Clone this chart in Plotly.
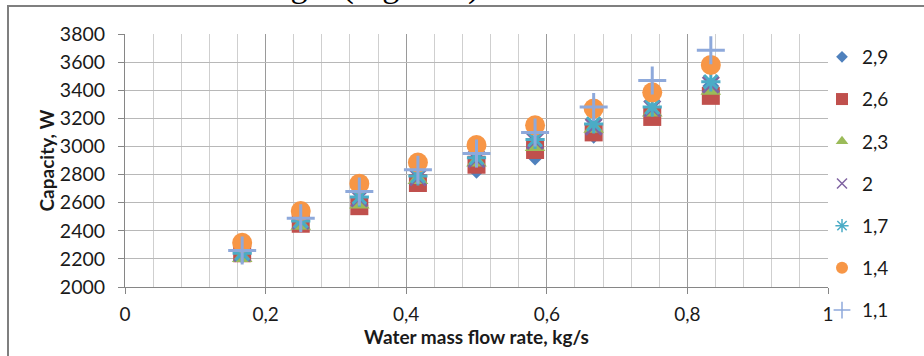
import plotly.graph_objects as go

# ---- data ----
flow_rate = [10/60, 15/60, 20/60, 25/60, 30/60, 35/60, 40/60, 45/60, 50/60]
series_names = ["2,9", "2,6", "2,3", "2", "1,7", "1,4", "1,1"]
cap_29 = [2230, 2460, 2620, 2770, 2830, 2925, 3080, 3240, 3430]
cap_26 = [2240, 2450, 2575, 2740, 2870, 2975, 3100, 3210, 3360]
cap_23 = [2210, 2440, 2590, 2765, 2890, 3000, 3130, 3245, 3400]
cap_20 = [2240, 2470, 2630, 2780, 2910, 3040, 3140, 3270, 3440]
cap_17 = [2240, 2470, 2640, 2790, 2920, 3050, 3160, 3280, 3460]
cap_14 = [2315, 2540, 2735, 2885, 3010, 3150, 3270, 3385, 3580]
cap_11 = [2260, 2490, 2680, 2835, 2950, 3100, 3280, 3470, 3685]
series_values = [cap_29, cap_26, cap_23, cap_20, cap_17, cap_14, cap_11]

x_tick_vals = [0, 0.2, 0.4, 0.6, 0.8, 1.0]
x_tick_text = ["0", "0,2", "0,4", "0,6", "0,8", "1"]
y_tick_vals = [2000, 2200, 2400, 2600, 2800, 3000, 3200, 3400, 3600, 3800]

# ---- style ----
colors = ["#4F81BD", "#C0504D", "#9BBB59", "#8064A2", "#4BACC6", "#F79646", "#8EA9DB"]
symbols = ["diamond", "square", "triangle-up", "x-thin-open", "asterisk-open",
           "circle", "cross-thin-open"]
plot_sizes = [13, 18, 18, 16, 16, 20, 20]
legend_sizes = [9, 12, 11, 10, 11, 12, 12]
FONT = "Lato"
TXT = "#1a1a1a"

fig = go.Figure()
for name, vals, c, s, ps in zip(series_names, series_values, colors, symbols, plot_sizes):
    open_sym = s.endswith("open")
    fig.add_trace(go.Scatter(
        x=flow_rate, y=vals, mode="markers", name=name, showlegend=False,
        marker=dict(symbol=s, size=ps, color=c,
                    line=dict(color=c, width=3 if open_sym else 0)),
    ))
for i, (name, c, s, ls) in enumerate(zip(series_names, colors, symbols, legend_sizes)):
    open_sym = s.endswith("open")
    fig.add_trace(go.Scatter(
        x=[None], y=[None], mode="markers", name=name, legendgroup=f"g{i}",
        marker=dict(symbol=s, size=ls, color=c,
                    line=dict(color=c, width=1.5 if open_sym else 0)),
    ))

W, H = 924, 356
L, R, T, B = 125, 96, 34, 69
pw, ph = W - L - R, H - T - B

def px_x(px):
    return (px - L) / pw

def px_y(py):
    return (H - B - py) / ph

fig.update_layout(
    width=W, height=H,
    margin=dict(l=L, r=R, t=T, b=B),
    paper_bgcolor="white", plot_bgcolor="white",
    font=dict(family=FONT, size=19, color=TXT),
    showlegend=True,
    legend=dict(x=px_x(822), y=px_y(38), xanchor="left", yanchor="top",
                font=dict(family=FONT, size=19, color=TXT),
                tracegroupgap=14.5, itemwidth=30, maxheight=340,
                bgcolor="rgba(0,0,0,0)"),
    xaxis=dict(
        range=[0, 1], tickmode="array", tickvals=x_tick_vals, ticktext=x_tick_text,
        showgrid=True, gridcolor="#9A9A9A", gridwidth=1,
        minor=dict(dtick=0.04, showgrid=True, gridcolor="#CFCFCF", gridwidth=1),
        ticks="outside", ticklen=6, tickcolor="#868686",
        showline=True, linecolor="#868686", linewidth=1,
        zeroline=False, ticklabelstandoff=4,
        title=dict(text="<b>Water mass flow rate, kg/s</b>", standoff=6,
                   font=dict(family=FONT, size=19, color=TXT)),
        tickfont=dict(family=FONT, size=19, color=TXT),
    ),
    yaxis=dict(
        range=[2000, 3800], tickmode="array", tickvals=y_tick_vals,
        showgrid=True, gridcolor="#B8B8B8", gridwidth=1,
        ticks="outside", ticklen=6, tickcolor="#868686",
        showline=True, linecolor="#868686", linewidth=1,
        zeroline=False, ticklabelstandoff=9,
        tickfont=dict(family=FONT, size=19.5, color=TXT),
    ),
)

# y-axis title
fig.add_annotation(text="<b>Capacity, W</b>", xref="paper", yref="paper",
                   x=px_x(46), y=0.5, xanchor="center", yanchor="middle",
                   textangle=-90, showarrow=False,
                   font=dict(family=FONT, size=19, color=TXT))

# chart-area border (top and left visible)
fig.add_shape(type="rect", xref="paper", yref="paper",
              x0=px_x(8), x1=px_x(934), y0=px_y(366), y1=px_y(6),
              line=dict(color="#7F7F7F", width=2), fillcolor="rgba(0,0,0,0)", layer="below")

# cut-off line of document text above the chart
fig.add_annotation(text="length (Figure 4)", xref="paper", yref="paper",
                   x=px_x(247), y=px_y(7), xanchor="left", yanchor="bottom",
                   showarrow=False,
                   font=dict(family="Liberation Serif", size=34, color="#000000"))

fig.write_html("out.html")
